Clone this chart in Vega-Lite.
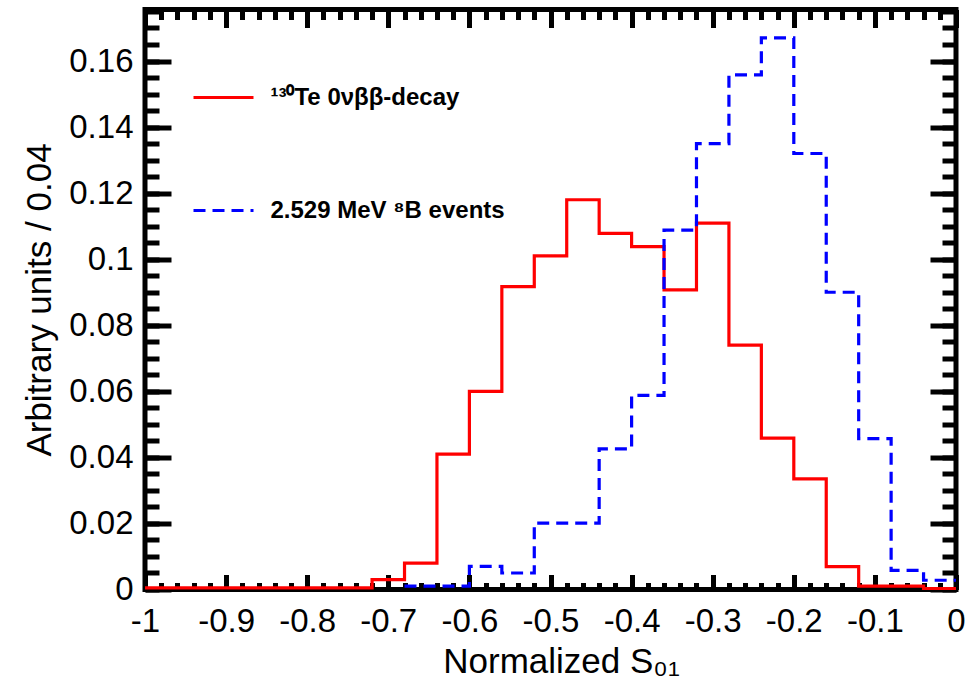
{
  "$schema": "https://vega.github.io/schema/vega-lite/v6.json",
  "width": 811,
  "height": 580,
  "autosize": "none",
  "padding": {"left": 145, "top": 9.5, "right": 13, "bottom": 91.5},
  "background": "white",
  "config": {
    "view": {"stroke": "black", "strokeWidth": 5},
    "axis": {
      "domain": false,
      "grid": false,
      "tickColor": "black",
      "tickWidth": 5,
      "labelFont": "Liberation Sans",
      "labelFontSize": 33,
      "labelColor": "black",
      "titleFont": "Liberation Sans",
      "titleFontSize": 35,
      "titleFontWeight": "normal",
      "titleColor": "black"
    }
  },
  "data": {
    "values": [
      {"x": -1, "y": 0.0005, "s": "¹³⁰Te 0νββ-decay"},
      {"x": -0.96, "y": 0.0005, "s": "¹³⁰Te 0νββ-decay"},
      {"x": -0.92, "y": 0.0005, "s": "¹³⁰Te 0νββ-decay"},
      {"x": -0.88, "y": 0.0005, "s": "¹³⁰Te 0νββ-decay"},
      {"x": -0.84, "y": 0.0005, "s": "¹³⁰Te 0νββ-decay"},
      {"x": -0.8, "y": 0.0005, "s": "¹³⁰Te 0νββ-decay"},
      {"x": -0.76, "y": 0.0005, "s": "¹³⁰Te 0νββ-decay"},
      {"x": -0.72, "y": 0.003, "s": "¹³⁰Te 0νββ-decay"},
      {"x": -0.68, "y": 0.008, "s": "¹³⁰Te 0νββ-decay"},
      {"x": -0.64, "y": 0.041, "s": "¹³⁰Te 0νββ-decay"},
      {"x": -0.6, "y": 0.06, "s": "¹³⁰Te 0νββ-decay"},
      {"x": -0.56, "y": 0.0917, "s": "¹³⁰Te 0νββ-decay"},
      {"x": -0.52, "y": 0.101, "s": "¹³⁰Te 0νββ-decay"},
      {"x": -0.48, "y": 0.118, "s": "¹³⁰Te 0νββ-decay"},
      {"x": -0.44, "y": 0.1078, "s": "¹³⁰Te 0νββ-decay"},
      {"x": -0.4, "y": 0.1038, "s": "¹³⁰Te 0νββ-decay"},
      {"x": -0.36, "y": 0.0907, "s": "¹³⁰Te 0νββ-decay"},
      {"x": -0.32, "y": 0.1109, "s": "¹³⁰Te 0νββ-decay"},
      {"x": -0.28, "y": 0.074, "s": "¹³⁰Te 0νββ-decay"},
      {"x": -0.24, "y": 0.0458, "s": "¹³⁰Te 0νββ-decay"},
      {"x": -0.2, "y": 0.0335, "s": "¹³⁰Te 0νββ-decay"},
      {"x": -0.16, "y": 0.0069, "s": "¹³⁰Te 0νββ-decay"},
      {"x": -0.12, "y": 0.001, "s": "¹³⁰Te 0νββ-decay"},
      {"x": -0.08, "y": 0.001, "s": "¹³⁰Te 0νββ-decay"},
      {"x": -0.04, "y": 0.0003, "s": "¹³⁰Te 0νββ-decay"},
      {"x": 0, "y": 0.0003, "s": "¹³⁰Te 0νββ-decay"},
      {"x": -0.68, "y": 0.001, "s": "2.529 MeV ⁸B events"},
      {"x": -0.64, "y": 0.001, "s": "2.529 MeV ⁸B events"},
      {"x": -0.6, "y": 0.007, "s": "2.529 MeV ⁸B events"},
      {"x": -0.56, "y": 0.005, "s": "2.529 MeV ⁸B events"},
      {"x": -0.52, "y": 0.0201, "s": "2.529 MeV ⁸B events"},
      {"x": -0.48, "y": 0.0201, "s": "2.529 MeV ⁸B events"},
      {"x": -0.44, "y": 0.0426, "s": "2.529 MeV ⁸B events"},
      {"x": -0.4, "y": 0.0588, "s": "2.529 MeV ⁸B events"},
      {"x": -0.36, "y": 0.1088, "s": "2.529 MeV ⁸B events"},
      {"x": -0.32, "y": 0.135, "s": "2.529 MeV ⁸B events"},
      {"x": -0.28, "y": 0.1558, "s": "2.529 MeV ⁸B events"},
      {"x": -0.24, "y": 0.167, "s": "2.529 MeV ⁸B events"},
      {"x": -0.2, "y": 0.132, "s": "2.529 MeV ⁸B events"},
      {"x": -0.16, "y": 0.09, "s": "2.529 MeV ⁸B events"},
      {"x": -0.12, "y": 0.0457, "s": "2.529 MeV ⁸B events"},
      {"x": -0.08, "y": 0.0058, "s": "2.529 MeV ⁸B events"},
      {"x": -0.04, "y": 0.0028, "s": "2.529 MeV ⁸B events"},
      {"x": 0, "y": 0.0028, "s": "2.529 MeV ⁸B events"}
    ]
  },
  "layer": [
    {
      "mark": {"type": "line", "interpolate": "step-after", "strokeWidth": 3.2, "strokeCap": "butt"},
      "encoding": {
        "x": {
          "field": "x", "type": "quantitative",
          "scale": {"domain": [-1, 0], "nice": false, "zero": false},
          "axis": {
            "orient": "bottom",
            "values": [-1, -0.9, -0.8, -0.7, -0.6, -0.5, -0.4, -0.3, -0.2, -0.1, 0],
            "tickSize": -15,
            "labelPadding": 31,
            "labelExpr": "'' + datum.value",
            "labelFlush": false,
            "labelOverlap": false,
            "title": "Normalized S₀₁",
            "titleX": 416,
            "titleY": 82.5,
            "titleBaseline": "alphabetic",
            "titleAlign": "center"
          }
        },
        "y": {
          "field": "y", "type": "quantitative",
          "scale": {"domain": [0, 0.1756], "nice": false},
          "axis": {
            "orient": "left",
            "values": [0, 0.02, 0.04, 0.06, 0.08, 0.1, 0.12, 0.14, 0.16],
            "tickSize": -26,
            "labelPadding": 38,
            "labelExpr": "'' + datum.value",
            "labelOverlap": false,
            "title": "Arbitrary units / 0.04",
            "titleX": -95,
            "titleY": 290,
            "titleAngle": 270,
            "titleBaseline": "alphabetic",
            "titleAlign": "center"
          }
        },
        "color": {
          "field": "s", "type": "nominal",
          "scale": {"domain": ["¹³⁰Te 0νββ-decay", "2.529 MeV ⁸B events"], "range": ["#ff0000", "#0000ff"]},
          "legend": {
            "title": null, "orient": "none", "legendX": 46.5, "legendY": 56, "padding": 0,
            "symbolType": "stroke", "symbolSize": 3600, "symbolStrokeWidth": 3.2,
            "labelFont": "Liberation Sans", "labelFontSize": 24, "labelFontWeight": "bold", "labelColor": "black",
            "labelOffset": 15, "rowPadding": 69, "labelLimit": 500
          }
        },
        "strokeDash": {
          "field": "s", "type": "nominal",
          "scale": {"domain": ["¹³⁰Te 0νββ-decay", "2.529 MeV ⁸B events"], "range": [[1, 0], [12, 7]]},
          "legend": {
            "title": null, "orient": "none", "legendX": 46.5, "legendY": 56, "padding": 0,
            "symbolType": "stroke", "symbolSize": 3600, "symbolStrokeWidth": 3.2,
            "labelFont": "Liberation Sans", "labelFontSize": 24, "labelFontWeight": "bold", "labelColor": "black",
            "labelOffset": 15, "rowPadding": 69, "labelLimit": 500
          }
        }
      }
    },
    {
      "mark": {"type": "line", "interpolate": "step-after", "opacity": 0, "strokeOpacity": 0},
      "encoding": {
        "detail": {"field": "s", "type": "nominal"},
        "x": {
          "field": "x", "type": "quantitative",
          "axis": {
            "orient": "bottom", "labels": false, "title": null, "tickSize": -7,
            "values": [-1, -0.98, -0.96, -0.94, -0.92, -0.9, -0.88, -0.86, -0.84, -0.82, -0.8, -0.78, -0.76, -0.74, -0.72, -0.7, -0.68, -0.66, -0.64, -0.62, -0.6, -0.58, -0.56, -0.54, -0.52, -0.5, -0.48, -0.46, -0.44, -0.42, -0.4, -0.38, -0.36, -0.34, -0.32, -0.3, -0.28, -0.26, -0.24, -0.22, -0.2, -0.18, -0.16, -0.14, -0.12, -0.1, -0.08, -0.06, -0.04, -0.02, 0]
          }
        },
        "y": {
          "field": "y", "type": "quantitative",
          "axis": {
            "orient": "left", "labels": false, "title": null, "tickSize": -14,
            "values": [0, 0.005, 0.01, 0.015, 0.02, 0.025, 0.03, 0.035, 0.04, 0.045, 0.05, 0.055, 0.06, 0.065, 0.07, 0.075, 0.08, 0.085, 0.09, 0.095, 0.1, 0.105, 0.11, 0.115, 0.12, 0.125, 0.13, 0.135, 0.14, 0.145, 0.15, 0.155, 0.16, 0.165, 0.17, 0.175]
          }
        }
      }
    },
    {
      "mark": {"type": "line", "interpolate": "step-after", "opacity": 0, "strokeOpacity": 0},
      "encoding": {
        "detail": {"field": "s", "type": "nominal"},
        "x": {
          "field": "x", "type": "quantitative",
          "axis": {
            "orient": "top", "labels": false, "title": null, "tickSize": -18,
            "values": [-1, -0.9, -0.8, -0.7, -0.6, -0.5, -0.4, -0.3, -0.2, -0.1, 0]
          }
        },
        "y": {
          "field": "y", "type": "quantitative",
          "axis": {
            "orient": "right", "labels": false, "title": null, "tickSize": -26,
            "values": [0, 0.02, 0.04, 0.06, 0.08, 0.1, 0.12, 0.14, 0.16]
          }
        }
      }
    },
    {
      "mark": {"type": "line", "interpolate": "step-after", "opacity": 0, "strokeOpacity": 0},
      "encoding": {
        "detail": {"field": "s", "type": "nominal"},
        "x": {
          "field": "x", "type": "quantitative",
          "axis": {
            "orient": "top", "labels": false, "title": null, "tickSize": -10,
            "values": [-1, -0.98, -0.96, -0.94, -0.92, -0.9, -0.88, -0.86, -0.84, -0.82, -0.8, -0.78, -0.76, -0.74, -0.72, -0.7, -0.68, -0.66, -0.64, -0.62, -0.6, -0.58, -0.56, -0.54, -0.52, -0.5, -0.48, -0.46, -0.44, -0.42, -0.4, -0.38, -0.36, -0.34, -0.32, -0.3, -0.28, -0.26, -0.24, -0.22, -0.2, -0.18, -0.16, -0.14, -0.12, -0.1, -0.08, -0.06, -0.04, -0.02, 0]
          }
        },
        "y": {
          "field": "y", "type": "quantitative",
          "axis": {
            "orient": "right", "labels": false, "title": null, "tickSize": -14,
            "values": [0, 0.005, 0.01, 0.015, 0.02, 0.025, 0.03, 0.035, 0.04, 0.045, 0.05, 0.055, 0.06, 0.065, 0.07, 0.075, 0.08, 0.085, 0.09, 0.095, 0.1, 0.105, 0.11, 0.115, 0.12, 0.125, 0.13, 0.135, 0.14, 0.145, 0.15, 0.155, 0.16, 0.165, 0.17, 0.175]
          }
        }
      }
    }
  ],
  "resolve": {"axis": {"x": "independent", "y": "independent"}}
}
